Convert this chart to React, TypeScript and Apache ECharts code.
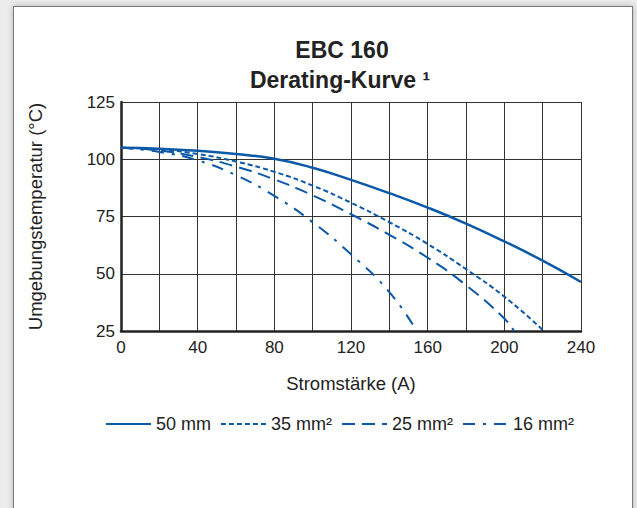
import React, { useEffect, useRef } from "react";
import * as echarts from "echarts";

const seriesNames = ["50 mm", "35 mm²", "25 mm²", "16 mm²"];
const current50 = [0, 20, 40, 60, 80, 100, 120, 140, 160, 180, 200, 220, 240];
const temp50 = [105, 104.6, 103.7, 102.3, 100.2, 96.3, 91, 85.2, 78.9, 71.9, 64.1, 55.7, 46.4];
const current35 = [0, 20, 40, 60, 80, 100, 120, 140, 160, 180, 200, 220];
const temp35 = [105, 104.3, 102.3, 99, 94.5, 88.5, 81, 72.5, 63, 52, 40, 25.5];
const current25 = [0, 20, 40, 60, 80, 100, 120, 140, 160, 180, 200, 205];
const temp25 = [105, 103.8, 101, 96.8, 91.2, 84.2, 76, 67, 57, 45, 30.5, 25];
const current16 = [0, 20, 40, 60, 80, 100, 120, 140, 154];
const temp16 = [105, 103.2, 99.5, 93, 84, 72.5, 58.5, 42, 25.3];
const xTicks = [0, 40, 80, 120, 160, 200, 240];
const yTicks = [25, 50, 75, 100, 125];

const BLUE = "#0b59a8";
const FONT = "Liberation Sans, Arial, sans-serif";

function zip(xs: number[], ys: number[]) {
  return xs.map((x, i) => [x, ys[i]]);
}

export default function App() {
  const ref = useRef<HTMLDivElement>(null);
  useEffect(() => {
    if (!ref.current) return;
    const chart = echarts.init(ref.current, undefined, { renderer: "svg" });
    const styles: any[] = [
      { type: "solid", width: 2.5 },
      { type: [5, 3], width: 2 },
      { type: [13, 7], width: 2 },
      { type: [12, 8, 3, 8], width: 2 },
    ];
    const datas = [
      zip(current50, temp50),
      zip(current35, temp35),
      zip(current25, temp25),
      zip(current16, temp16),
    ];
    chart.setOption({
      animation: false,
      backgroundColor: "transparent",
      textStyle: { fontFamily: FONT },
      graphic: [
        {
          type: "text",
          x: 342,
          y: 50,
          style: {
            text: "EBC 160",
            font: `bold 23px ${FONT}`,
            fill: "#222",
            textAlign: "center",
            textVerticalAlign: "middle",
          },
        },
        {
          type: "text",
          x: 340,
          y: 80,
          style: {
            text: "Derating-Kurve ¹",
            font: `bold 23px ${FONT}`,
            fill: "#222",
            textAlign: "center",
            textVerticalAlign: "middle",
          },
        },
      ],
      legend: {
        left: 100,
        top: 410,
        itemWidth: 45,
        itemHeight: 14,
        itemGap: 9,
        data: seriesNames,
        itemStyle: { opacity: 0 },
        textStyle: { fontSize: 18, color: "#222", fontFamily: FONT },
      },
      grid: { left: 121, top: 102, width: 460, height: 229, containLabel: false },
      xAxis: {
        type: "value",
        min: 0,
        max: 240,
        interval: 20,
        name: "Stromstärke (A)",
        nameLocation: "middle",
        nameGap: 43,
        nameTextStyle: { fontSize: 18.5, color: "#222", fontFamily: FONT },
        axisLine: { show: true, lineStyle: { color: "#222", width: 2.5 } },
        axisTick: { show: false },
        splitLine: { show: true, lineStyle: { color: "#333", width: 1 } },
        axisLabel: {
          fontSize: 17,
          color: "#222",
          margin: 8,
          formatter: (v: number) => (xTicks.includes(v) ? String(v) : ""),
        },
      },
      yAxis: {
        type: "value",
        min: 25,
        max: 125,
        interval: 25,
        name: "Umgebungstemperatur (°C)",
        nameLocation: "middle",
        nameGap: 76,
        nameTextStyle: { fontSize: 18.5, color: "#222", fontFamily: FONT },
        axisLine: { show: true, lineStyle: { color: "#222", width: 2.5 } },
        axisTick: { show: false },
        splitLine: { show: true, lineStyle: { color: "#333", width: 1 } },
        axisLabel: {
          fontSize: 17,
          color: "#222",
          margin: 6,
          formatter: (v: number) => (yTicks.includes(v) ? String(v) : ""),
        },
      },
      series: seriesNames.map((name, i) => ({
        name,
        type: "line",
        smooth: 0.5,
        symbol: "none",
        color: BLUE,
        lineStyle: { color: BLUE, ...styles[i] },
        data: datas[i],
        z: 3,
      })),
    });
    return () => chart.dispose();
  }, []);

  return (
    <div
      style={{
        position: "fixed",
        left: 0,
        top: 0,
        width: 637,
        height: 508,
        background: "#ececec",
        overflow: "hidden",
      }}
    >
      <div
        style={{
          position: "absolute",
          left: 13,
          top: 6,
          width: 618,
          height: 540,
          background: "#fff",
          border: "1px solid #7a7a7a",
          boxShadow: "0 0 6px rgba(0,0,0,0.25)",
        }}
      />
      <div
        ref={ref}
        style={{ position: "absolute", left: 0, top: 0, width: 637, height: 508 }}
      />
    </div>
  );
}
